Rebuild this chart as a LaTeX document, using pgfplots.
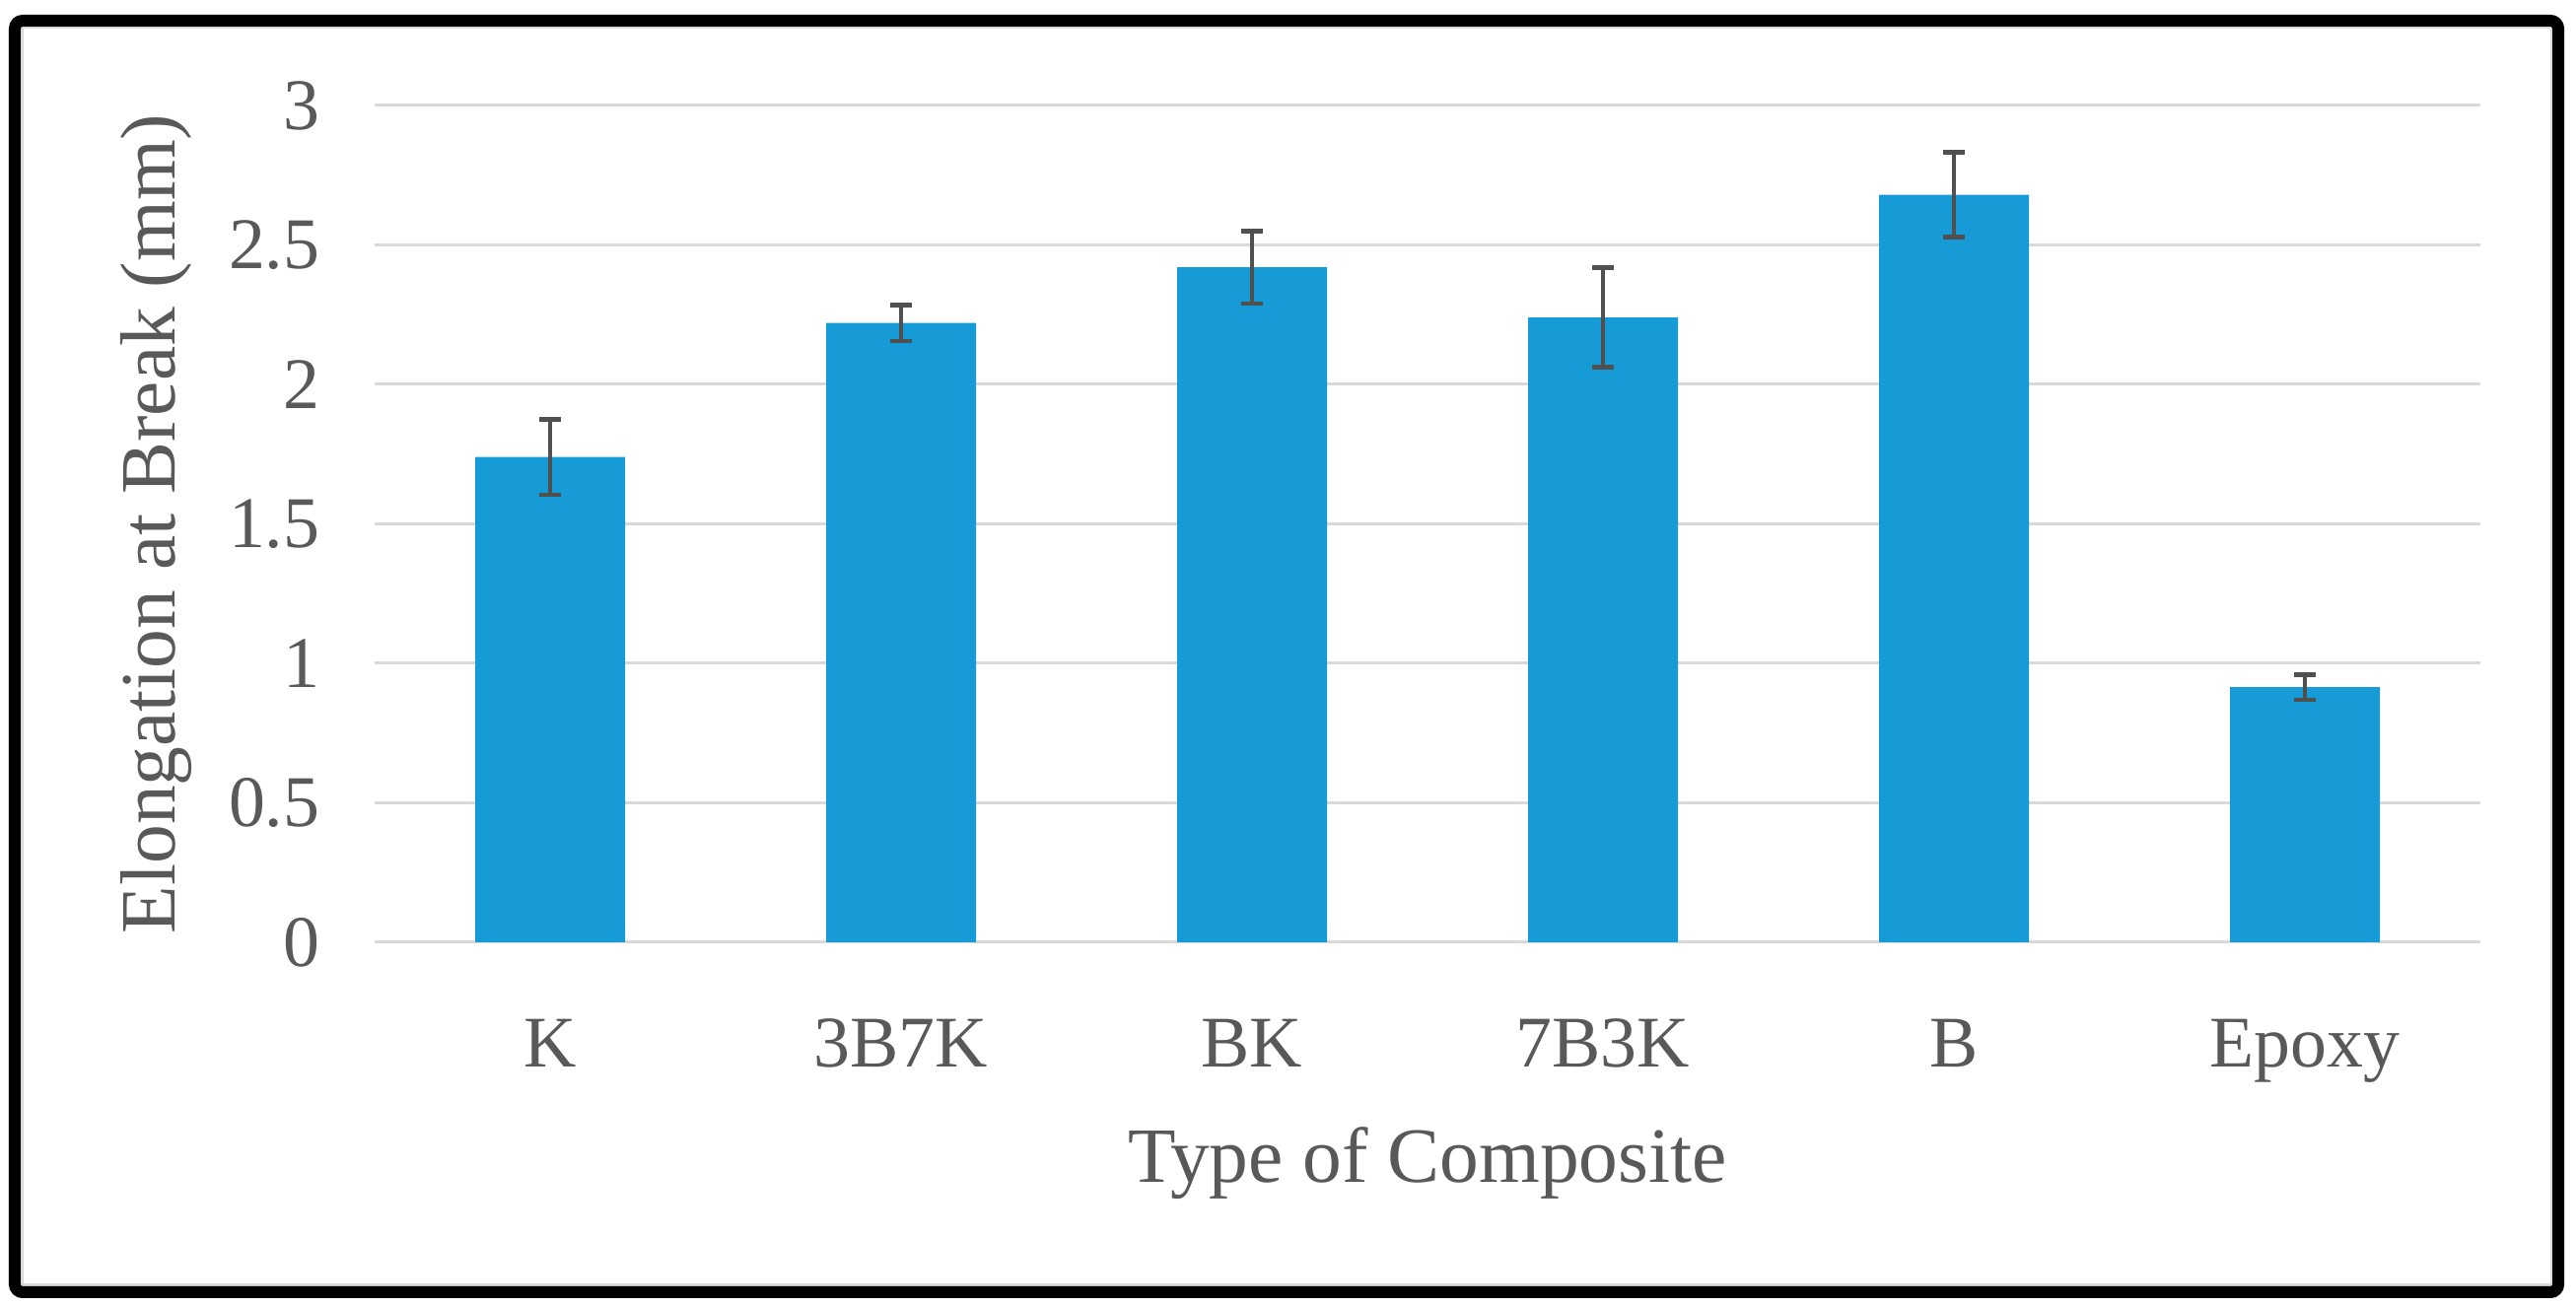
\documentclass[border=0pt]{standalone}
\usepackage{fontspec}
\setmainfont{Liberation Serif}
\usepackage{pgfplots}
\pgfplotsset{compat=1.18}
\definecolor{barblue}{RGB}{23,155,215}
\definecolor{txtgray}{RGB}{89,89,89}
\definecolor{gridgray}{RGB}{217,217,217}
\definecolor{errgray}{RGB}{80,80,80}
\pgfplotstableread{
x y err
0 1.74 0.135
1 2.22 0.065
2 2.42 0.13
3 2.24 0.178
4 2.68 0.152
5 0.915 0.045
}\datatable
\begin{document}
\begin{tikzpicture}
\path[use as bounding box] (0,0) rectangle (26.13,13.26);
\begin{axis}[
  at={(3.80cm,3.70cm)}, anchor=south west,
  scale only axis, width=21.36cm, height=8.49cm,
  xmin=-0.5, xmax=5.5, ymin=0, ymax=3,
  xtick={0,1,2,3,4,5},
  xticklabels={K,3B7K,BK,7B3K,B,Epoxy},
  ytick={0,0.5,1,1.5,2,2.5,3},
  /pgf/number format/assume math mode=true,
  axis line style={draw=none},
  major tick length=0pt,
  ymajorgrids, grid style={gridgray, line width=0.03cm},
  xticklabel style={anchor=base, yshift=-1.27cm, font=\fontsize{21}{25}\selectfont, text=txtgray},
  yticklabel style={anchor=east, inner sep=0pt, xshift=-0.55cm, font=\fontsize{21}{25}\selectfont, text=txtgray},
  xlabel={Type of Composite},
  ylabel={Elongation at Break (mm)},
  xlabel style={at={(axis description cs:0.5,-0.2874)}, anchor=base, font=\fontsize{22.6}{27}\selectfont, text=txtgray},
  ylabel style={at={(axis description cs:-0.1039,0.5)}, anchor=center, font=\fontsize{22.6}{27}\selectfont, text=txtgray},
  clip=false,
]
\draw[gridgray, line width=0.03cm] (axis cs:-0.5,0) -- (axis cs:5.5,0);
\addplot[ybar, bar width=1.52cm, fill=barblue, draw=none,
  error bars/.cd, y dir=both, y explicit,
  error bar style={errgray, line width=0.045cm},
  error mark options={rotate=90, mark size=0.11cm, line width=0.045cm, errgray}]
  table[x=x, y=y, y error=err] {\datatable};
\end{axis}
\draw[gridgray, line width=0.03cm] (0.22,0.22) rectangle (25.88,12.98);
\draw[black, line width=0.12cm, rounded corners=0.08cm] (0.15,0.15) rectangle (25.95,13.05);
\end{tikzpicture}
\end{document}
